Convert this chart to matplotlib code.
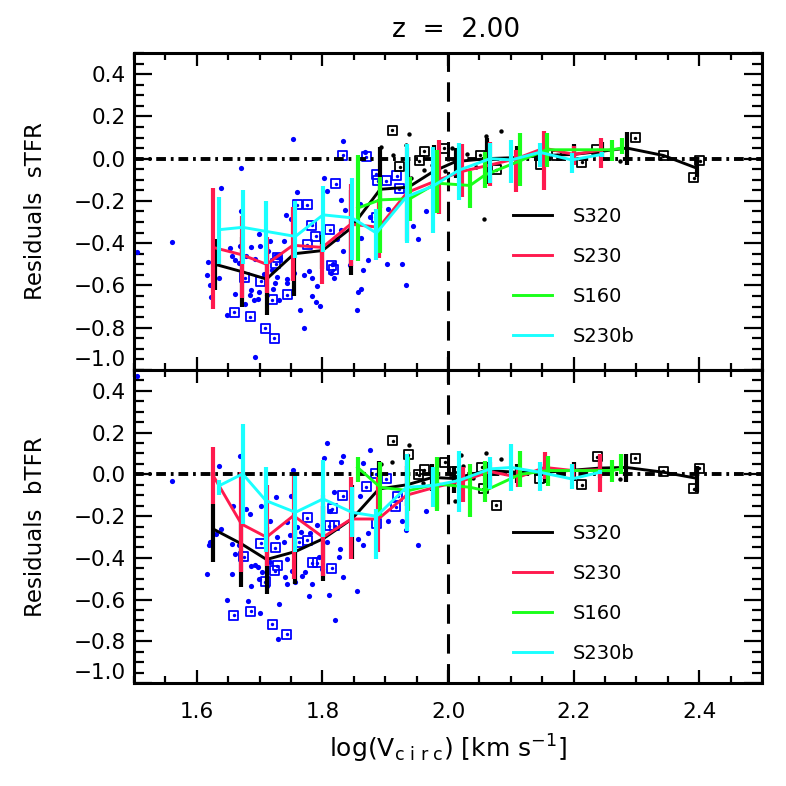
"""Residuals of the stellar / baryonic Tully-Fisher relation at z = 2.

Two stacked panels sharing log(Vcirc): individual galaxies as dots and
boxed dots, running medians with scatter bars for four runs.
"""
import matplotlib

matplotlib.use("Agg")
import matplotlib.pyplot as plt
from matplotlib.ticker import FixedLocator, FuncFormatter, MultipleLocator

plt.rcParams.update(
    {
        "font.family": ["DejaVu Sans"],
        "mathtext.default": "regular",
        "axes.linewidth": 2.2,
        "xtick.direction": "in",
        "ytick.direction": "in",
        "xtick.top": True,
        "ytick.right": True,
        "xtick.major.width": 1.6,
        "ytick.major.width": 1.6,
        "xtick.minor.width": 1.6,
        "ytick.minor.width": 1.6,
        "xtick.major.size": 9.5,
        "xtick.minor.size": 5,
        "ytick.major.size": 13,
        "ytick.minor.size": 7,
        "xtick.labelsize": 15.5,
        "ytick.labelsize": 15.5,
        "lines.scale_dashes": False,
    }
)

RED = "#ff1a4e"
GREEN = "#1aff1a"
CYAN = "#1affff"
BLUE = "#0000ff"

RUNS = ["S320", "S230", "S160", "S230b"]
RUN_COLORS = ["black", RED, GREEN, CYAN]

X_TICKS = [1.6, 1.8, 2.0, 2.2, 2.4]
Y_TICKS = [-1.0, -0.8, -0.6, -0.4, -0.2, 0.0, 0.2, 0.4]

# ---------------- top panel: sTFR residuals ----------------
S320_X_S = [1.629, 1.672, 1.711, 1.755, 1.800, 1.845, 1.892, 1.937, 1.977, 2.012,
            2.062, 2.110, 2.155, 2.200, 2.245, 2.285, 2.343, 2.396]
S320_Y_S = [-0.50, -0.535, -0.57, -0.45, -0.435, -0.33, -0.145, -0.135, -0.06, -0.014,
            0.0, 0.005, 0.015, 0.02, 0.035, 0.05, 0.015, -0.045]
S320_LO_S = [-0.62, -0.70, -0.74, -0.65, -0.52, -0.55, -0.234, -0.25, -0.116, -0.09,
             -0.12, -0.05, -0.04, -0.03, -0.01, -0.03, 0.015, -0.085]
S320_HI_S = [-0.38, -0.37, -0.42, -0.28, -0.36, -0.15, 0.057, 0.0, 0.066, 0.05,
             0.10, 0.06, 0.07, 0.07, 0.08, 0.124, 0.015, 0.01]

S230_X_S = [1.626, 1.672, 1.711, 1.753, 1.800, 1.845, 1.890, 1.935, 1.985, 2.023,
            2.067, 2.109, 2.153, 2.200, 2.243]
S230_Y_S = [-0.42, -0.455, -0.50, -0.41, -0.42, -0.31, -0.325, -0.16, -0.10, -0.06,
            -0.03, 0.0, 0.05, 0.02, 0.04]
S230_LO_S = [-0.71, -0.66, -0.635, -0.58, -0.595, -0.51, -0.47, -0.39, -0.26, -0.18,
             -0.13, -0.16, -0.15, -0.03, -0.046]
S230_HI_S = [-0.14, -0.27, -0.37, -0.23, -0.405, -0.12, -0.19, 0.05, 0.09, 0.07,
             0.08, 0.04, 0.13, 0.06, 0.096]

S160_X_S = [1.856, 1.892, 1.939, 1.982, 2.035, 2.059, 2.115, 2.157, 2.261, 2.277]
S160_Y_S = [-0.234, -0.195, -0.19, -0.116, -0.127, -0.077, -0.01, 0.042, 0.042, 0.05]
S160_LO_S = [-0.486, -0.447, -0.297, -0.258, -0.234, -0.14, -0.13, -0.04, -0.01, 0.02]
S160_HI_S = [0.017, -0.085, -0.085, 0.04, -0.06, 0.033, 0.12, 0.12, 0.09, 0.10]

S230B_X_S = [1.636, 1.673, 1.710, 1.757, 1.801, 1.847, 1.886, 1.934, 1.976, 2.017,
             2.067, 2.101, 2.146, 2.197, 2.245]
S230B_Y_S = [-0.336, -0.325, -0.344, -0.368, -0.266, -0.28, -0.352, -0.18, -0.13, -0.055,
             0.0, -0.006, 0.03, -0.006, 0.02]
S230B_LO_S = [-0.50, -0.50, -0.50, -0.47, -0.44, -0.48, -0.48, -0.40, -0.35, -0.195,
              -0.116, -0.116, -0.038, -0.07, 0.01]
S230B_HI_S = [-0.18, -0.15, -0.20, -0.20, -0.13, -0.09, -0.24, 0.07, 0.057, 0.072,
              0.072, 0.088, 0.072, 0.025, 0.03]

DOT_X_S = [1.560, 1.638, 1.671, 1.753, 1.833, 1.868, 1.803, 1.807, 1.760, 1.829,
           1.836, 1.742, 1.750, 1.875, 1.904, 1.945, 1.952, 1.965, 1.670, 1.699,
           1.701, 1.686, 1.669, 1.653, 1.717, 1.739, 1.618, 1.616, 1.621, 1.623,
           1.635, 1.656, 1.661, 1.667, 1.679, 1.693, 1.713, 1.726, 1.732, 1.707,
           1.720, 1.728, 1.743, 1.754, 1.724, 1.721, 1.712, 1.699, 1.686, 1.684,
           1.691, 1.698, 1.661, 1.648, 1.677, 1.731, 1.743, 1.770, 1.779, 1.783,
           1.791, 1.783, 1.789, 1.796, 1.765, 1.770, 1.818, 1.814, 1.817, 1.830,
           1.823, 1.832, 1.844, 1.873, 1.864, 1.857, 1.861, 1.855, 1.903, 1.927,
           1.933, 1.693, 1.860, 1.861, 1.504]
DOT_Y_S = [-0.395, -0.140, -0.046, 0.093, 0.083, 0.033, -0.090, -0.153, -0.159, -0.195,
           -0.242, -0.266, -0.285, -0.274, -0.239, -0.321, -0.381, -0.247, -0.250, -0.357,
           -0.414, -0.418, -0.412, -0.423, -0.392, -0.392, -0.489, -0.549, -0.599, -0.656,
           -0.564, -0.462, -0.481, -0.492, -0.462, -0.473, -0.439, -0.454, -0.470, -0.546,
           -0.525, -0.560, -0.568, -0.539, -0.588, -0.615, -0.643, -0.630, -0.623, -0.643,
           -0.671, -0.662, -0.640, -0.742, -0.687, -0.667, -0.588, -0.549, -0.533, -0.564,
           -0.604, -0.648, -0.679, -0.698, -0.714, -0.800, -0.564, -0.541, -0.497, -0.336,
           -0.379, -0.439, -0.502, -0.478, -0.525, -0.632, -0.619, -0.717, -0.498, -0.498,
           -0.599, -0.939, -0.215, -0.376, -0.443]

BOX_X_S = [1.660, 1.685, 1.709, 1.723, 1.702, 1.720, 1.744, 1.726, 1.728, 1.776,
           1.789, 1.783, 1.812, 1.815, 1.760, 1.776, 1.821, 1.832, 1.870, 1.886,
           1.888, 1.902, 1.918, 1.922, 1.886, 1.676, 1.817]
BOX_Y_S = [-0.726, -0.748, -0.803, -0.851, -0.580, -0.667, -0.643, -0.498, -0.470, -0.407,
           -0.368, -0.316, -0.336, -0.505, -0.219, -0.219, -0.119, 0.017, 0.009, -0.074,
           -0.104, -0.104, -0.080, -0.143, -0.278, -0.564, -0.525]

KDOT_X_S = [1.938, 1.893, 1.913, 1.933, 1.941, 1.961, 2.006, 2.061, 2.084, 2.057,
            2.274, 1.975, 1.995, 2.030, 2.045]
KDOT_Y_S = [0.115, 0.057, 0.017, 0.064, -0.090, -0.053, 0.049, 0.107, 0.132, -0.285,
            -0.011, -0.030, -0.060, 0.020, -0.040]

KBOX_X_S = [1.911, 1.923, 1.954, 1.962, 1.994, 2.051, 2.077, 2.147, 2.173, 2.213,
            2.237, 2.298, 2.343, 2.391, 2.401]
KBOX_Y_S = [0.135, -0.038, -0.011, 0.034, 0.049, 0.017, -0.053, -0.027, 0.017, -0.017,
            0.041, 0.099, 0.014, -0.090, -0.011]

# ---------------- bottom panel: bTFR residuals ----------------
S320_X_B = [1.626, 1.671, 1.711, 1.757, 1.801, 1.847, 1.890, 1.935, 1.975, 2.010,
            2.062, 2.110, 2.155, 2.200, 2.242, 2.284, 2.343, 2.396]
S320_Y_B = [-0.262, -0.333, -0.408, -0.370, -0.309, -0.214, -0.07, -0.05, -0.015, -0.02,
            0.018, 0.01, 0.01, 0.02, 0.03, 0.033, 0.01, -0.019]
S320_LO_B = [-0.421, -0.54, -0.573, -0.525, -0.51, -0.405, -0.18, -0.15, -0.08, -0.09,
             -0.07, -0.04, -0.04, -0.03, -0.02, -0.038, 0.01, -0.086]
S320_HI_B = [-0.142, -0.2, -0.25, -0.25, -0.15, -0.05, 0.065, 0.04, 0.05, 0.04,
             0.057, 0.05, 0.05, 0.06, 0.07, 0.097, 0.01, 0.041]

S230_X_B = [1.626, 1.671, 1.711, 1.754, 1.801, 1.846, 1.889, 1.934, 1.982, 2.024,
            2.067, 2.112, 2.154, 2.199, 2.242]
S230_Y_B = [-0.006, -0.238, -0.301, -0.198, -0.301, -0.214, -0.214, -0.10, -0.06, -0.03,
            0.013, -0.014, 0.033, 0.018, 0.022]
S230_LO_B = [-0.142, -0.469, -0.437, -0.50, -0.485, -0.405, -0.373, -0.254, -0.166, -0.134,
             -0.05, -0.062, -0.022, -0.02, -0.086]
S230_HI_B = [0.129, 0.01, -0.05, -0.006, -0.10, -0.014, -0.014, 0.097, 0.026, 0.033,
             0.06, 0.033, 0.105, 0.05, 0.097]

S160_X_B = [1.856, 1.892, 1.937, 1.982, 2.035, 2.059, 2.115, 2.159, 2.261, 2.276]
S160_Y_B = [0.033, -0.062, -0.078, -0.046, -0.062, -0.078, 0.0, 0.018, 0.018, 0.026]
S160_LO_B = [-0.038, -0.20, -0.174, -0.174, -0.206, -0.134, -0.062, -0.054, -0.038, 0.002]
S160_HI_B = [0.081, 0.057, 0.081, 0.081, 0.049, 0.065, 0.113, 0.089, 0.07, 0.097]

S230B_X_B = [1.636, 1.673, 1.710, 1.757, 1.801, 1.847, 1.886, 1.934, 1.976, 2.017,
             2.067, 2.101, 2.146, 2.197, 2.242]
S230B_Y_B = [-0.054, 0.002, -0.126, -0.182, -0.118, -0.182, -0.201, -0.062, -0.054, -0.030,
             0.026, 0.033, 0.01, -0.022, 0.01]
S230B_LO_B = [-0.099, -0.238, -0.373, -0.373, -0.301, -0.30, -0.405, -0.270, -0.158, -0.182,
              -0.07, -0.078, -0.078, -0.07, 0.0]
S230B_HI_B = [-0.026, 0.241, 0.037, -0.006, 0.07, -0.06, -0.166, 0.097, 0.037, 0.113,
              0.081, 0.145, 0.057, 0.049, 0.02]

DOT_X_B = [1.560, 1.504, 1.636, 1.669, 1.753, 1.807, 1.833, 1.829, 1.803, 1.864,
           1.875, 1.860, 1.726, 1.750, 1.658, 1.678, 1.684, 1.702, 1.716, 1.743,
           1.759, 1.748, 1.766, 1.780, 1.792, 1.818, 1.812, 1.808, 1.828, 1.827,
           1.856, 1.864, 1.873, 1.904, 1.927, 1.933, 1.952, 1.965, 1.638, 1.631,
           1.621, 1.620, 1.617, 1.656, 1.661, 1.667, 1.656, 1.686, 1.692, 1.698,
           1.699, 1.704, 1.711, 1.717, 1.727, 1.739, 1.743, 1.740, 1.752, 1.743,
           1.757, 1.767, 1.772, 1.783, 1.779, 1.795, 1.799, 1.811, 1.832, 1.855,
           1.648, 1.681, 1.700, 1.731, 1.730, 1.820, 1.686]
DOT_Y_B = [-0.030, 0.469, 0.038, 0.089, 0.022, 0.150, 0.089, 0.061, 0.077, 0.053,
           0.118, -0.102, -0.107, -0.102, -0.150, -0.166, -0.190, -0.153, -0.222, -0.230,
           -0.254, -0.293, -0.278, -0.281, -0.242, -0.083, -0.174, -0.325, -0.357, -0.397,
           -0.309, -0.341, -0.282, -0.222, -0.225, -0.266, -0.338, -0.174, -0.262, -0.285,
           -0.322, -0.341, -0.477, -0.333, -0.381, -0.337, -0.477, -0.437, -0.434, -0.445,
           -0.501, -0.469, -0.533, -0.421, -0.301, -0.325, -0.405, -0.493, -0.461, -0.525,
           -0.517, -0.485, -0.469, -0.525, -0.581, -0.397, -0.453, -0.577, -0.490, -0.560,
           -0.601, -0.609, -0.663, -0.620, -0.791, -0.700, -0.536]

BOX_X_B = [1.659, 1.686, 1.720, 1.743, 1.702, 1.725, 1.724, 1.728, 1.709, 1.675,
           1.776, 1.776, 1.762, 1.784, 1.792, 1.815, 1.811, 1.820, 1.816, 1.832,
           1.870, 1.885, 1.902, 1.917, 1.920, 1.886]
BOX_Y_B = [-0.676, -0.656, -0.719, -0.767, -0.330, -0.352, -0.461, -0.437, -0.514, -0.394,
           -0.209, -0.317, -0.325, -0.424, -0.424, -0.450, -0.246, -0.246, -0.166, -0.102,
           -0.059, 0.002, -0.022, -0.155, -0.105, -0.238]

KDOT_X_B = [1.938, 1.911, 2.020, 2.024, 2.061, 2.084, 2.011, 2.274, 1.893, 1.975,
            1.960, 2.040]
KDOT_Y_B = [0.140, 0.061, 0.093, 0.041, 0.100, 0.073, -0.126, -0.022, 0.050, 0.000,
            -0.040, -0.020]

KBOX_X_B = [1.912, 1.937, 1.962, 1.953, 1.995, 2.011, 2.054, 2.056, 2.077, 2.146,
            2.213, 2.238, 2.298, 2.343, 2.391, 2.400]
KBOX_Y_B = [0.161, 0.094, 0.022, -0.003, 0.057, 0.013, 0.033, -0.070, -0.147, -0.019,
            -0.049, 0.085, 0.078, 0.014, -0.070, 0.029]


def one_decimal(v, _pos):
    return f"{v:.1f}".replace("-", "\u2212")


def boxed(ax, x, y, color):
    ax.scatter(x, y, s=42, marker="s", facecolors="none", edgecolors=color,
               linewidths=1.3, zorder=2)
    ax.scatter(x, y, s=6, color=color, linewidths=0, zorder=2)


def panel(ax, runs, dots, boxes, kdots, kboxes, ylabel, legend_top):
    ax.scatter(*dots, s=14, color=BLUE, linewidths=0, zorder=2)
    boxed(ax, *boxes, BLUE)
    ax.scatter(*kdots, s=10, color="black", linewidths=0, zorder=2)
    boxed(ax, *kboxes, "black")

    ax.axhline(0, color="black", lw=2.8, dashes=(7, 3.5, 2, 3.5), zorder=3)
    ax.axvline(2.0, color="black", lw=2.2, dashes=(14, 7.5), zorder=3)

    for (x, y, lo, hi), name, color in zip(runs, RUNS, RUN_COLORS):
        ax.vlines(x, lo, hi, color=color, lw=3, zorder=4)
        ax.plot(x, y, color=color, lw=2.1, label=name, zorder=4)

    ax.set_xlim(1.5, 2.5)
    ax.set_ylim(-1.0, 0.5)
    ax.xaxis.set_major_locator(FixedLocator(X_TICKS))
    ax.xaxis.set_minor_locator(MultipleLocator(0.05))
    ax.yaxis.set_major_locator(FixedLocator(Y_TICKS))
    ax.yaxis.set_minor_locator(MultipleLocator(0.05))
    ax.xaxis.set_major_formatter(FuncFormatter(one_decimal))
    ax.yaxis.set_major_formatter(FuncFormatter(one_decimal))
    ax.tick_params(axis="x", which="both", pad=14)
    ax.tick_params(axis="y", which="both", pad=6)

    ax.set_ylabel(ylabel, fontsize=16.5)
    ax.yaxis.set_label_coords(-0.138, 0.5)

    ax.legend(loc="upper left", bbox_to_anchor=(0.6035, legend_top), frameon=False,
              fontsize=14, handlelength=2.0, handletextpad=1.05,
              labelspacing=1.08, borderpad=0, borderaxespad=0)


def main():
    fig = plt.figure(figsize=(7.86, 7.86), dpi=100)
    ax_s = fig.add_axes([0.1705, 0.5293, 0.799, 0.4033])
    ax_b = fig.add_axes([0.1705, 0.1310, 0.799, 0.3983])

    runs_s = [
        (S320_X_S, S320_Y_S, S320_LO_S, S320_HI_S),
        (S230_X_S, S230_Y_S, S230_LO_S, S230_HI_S),
        (S160_X_S, S160_Y_S, S160_LO_S, S160_HI_S),
        (S230B_X_S, S230B_Y_S, S230B_LO_S, S230B_HI_S),
    ]
    runs_b = [
        (S320_X_B, S320_Y_B, S320_LO_B, S320_HI_B),
        (S230_X_B, S230_Y_B, S230_LO_B, S230_HI_B),
        (S160_X_B, S160_Y_B, S160_LO_B, S160_HI_B),
        (S230B_X_B, S230B_Y_B, S230B_LO_B, S230B_HI_B),
    ]
    panel(ax_s, runs_s, (DOT_X_S, DOT_Y_S), (BOX_X_S, BOX_Y_S),
          (KDOT_X_S, KDOT_Y_S), (KBOX_X_S, KBOX_Y_S), "Residuals  sTFR", 0.515)
    panel(ax_b, runs_b, (DOT_X_B, DOT_Y_B), (BOX_X_B, BOX_Y_B),
          (KDOT_X_B, KDOT_Y_B), (KBOX_X_B, KBOX_Y_B), "Residuals  bTFR", 0.508)

    ax_s.tick_params(axis="x", labelbottom=False)
    ax_b.set_xlabel(r"log(V$_{c\ i\ r\ c}$) [km s$^{-1}$]", fontsize=18)
    ax_b.xaxis.set_label_coords(0.5, -0.158)
    fig.text(0.580, 0.962, "z  =  2.00", fontsize=19, ha="center", va="center")

    # IDL keeps the lowest tick label inside the box
    fig.canvas.draw()
    for ax in (ax_s, ax_b):
        ax.yaxis.get_major_ticks()[0].label1.set_va("bottom")

    fig.savefig("out.png", dpi=100)
    plt.close(fig)


if __name__ == "__main__":
    main()
